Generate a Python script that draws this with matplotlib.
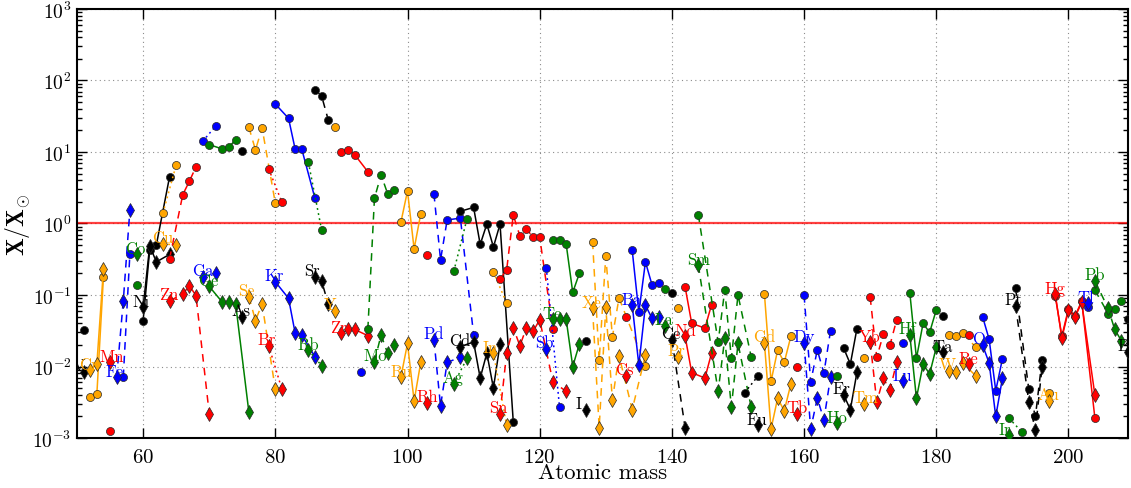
import math
import matplotlib
matplotlib.use("Agg")
import matplotlib.pyplot as plt
from matplotlib.ticker import FixedLocator, FuncFormatter, LogLocator, NullFormatter

plt.rcParams['font.family'] = 'serif'
plt.rcParams['font.serif'] = ['cmr10', 'DejaVu Serif']
plt.rcParams['mathtext.fontset'] = 'cm'
plt.rcParams['axes.formatter.use_mathtext'] = True

# ---------------- data ----------------
symbols = ['V', 'Cr', 'Mn', 'Fe', 'Co', 'Ni', 'Cu', 'Zn', 'Ga', 'Ge', 'As', 'Se', 'Br', 'Kr', 'Rb',
           'Sr', 'Y', 'Zr', 'Nb', 'Mo', 'Ru', 'Rh', 'Pd', 'Ag', 'Cd', 'In', 'Sn', 'Sb', 'Te', 'I',
           'Xe', 'Cs', 'Ba', 'La', 'Ce', 'Pr', 'Nd', 'Sm', 'Eu', 'Gd', 'Tb', 'Dy', 'Ho', 'Er', 'Tm',
           'Yb', 'Lu', 'Hf', 'Ta', 'W', 'Re', 'Os', 'Ir', 'Pt', 'Au', 'Hg', 'Tl', 'Pb', 'Bi']
Zs = [23, 24, 25, 26, 27, 28, 29, 30, 31, 32, 33, 34, 35, 36, 37,
      38, 39, 40, 41, 42, 44, 45, 46, 47, 48, 49, 50, 51, 52, 53,
      54, 55, 56, 57, 58, 59, 60, 62, 63, 64, 65, 66, 67, 68, 69,
      70, 71, 72, 73, 74, 75, 76, 77, 78, 79, 80, 81, 82, 83]

masses = [
    [51], [52, 53, 54], [55], [56, 57, 58], [59], [60, 61, 62, 64], [63, 65],
    [64, 66, 67, 68, 70], [69, 71], [70, 72, 73, 74, 76], [75], [76, 77, 78, 80],
    [79, 81], [80, 82, 83, 84, 86], [85, 87], [86, 87, 88], [89], [90, 91, 92, 94],
    [93], [94, 95, 96, 97, 98], [99, 100, 101, 102], [103], [104, 105, 106, 108, 110],
    [107, 109], [108, 110, 111, 112, 113, 114, 116], [113, 115],
    [114, 115, 116, 117, 118, 119, 120, 122, 124], [121, 123], [122, 123, 124, 125, 126],
    [127], [128, 129, 130, 131, 132, 134, 136], [133], [134, 135, 136, 137, 138], [139],
    [140, 142], [141], [142, 143, 145, 146], [144, 147, 148, 149, 150, 152], [151, 153],
    [154, 155, 156, 157, 158], [159], [160, 161, 162, 163, 164], [165], [166, 167, 168],
    [169], [170, 171, 172, 173, 174], [175], [176, 177, 178, 179, 180], [181],
    [182, 183, 184, 186], [185], [187, 188, 189, 190], [191, 193], [192, 194, 195, 196],
    [197], [198, 199, 200, 201, 202, 204], [203], [204, 206, 207, 208], [209]]

# circles (upper model) ; None = not shown
circle_vals = [
    [0.032], [0.0037, 0.0041, 0.18], [0.00127], [None, 0.0071, 0.38], [0.14],
    [0.044, 0.43, 0.50, 4.5], [1.39, 6.6], [0.32, 2.53, 3.9, 6.2, None], [14.1, 23.1],
    [12.7, 11.0, 11.9, 14.7, None], [10.4], [22.1, 10.7, 21.7, 1.92], [5.8, 1.98],
    [46.9, 29.6, 11.0, 11.0, 2.25], [7.2, 0.82], [74.0, 61.0, 28.3], [22.1],
    [10.1, 10.8, 9.2, 5.3], [0.0085], [0.033, 2.25, 4.8, 2.6, 2.97], [1.04, 2.85, 0.44, 1.36],
    [0.36], [2.6, 0.31, 1.12, 1.19, 0.028], [0.214, 1.16],
    [1.48, 1.68, 0.51, 0.98, 0.47, 0.98, 0.0017], [0.21, 0.077],
    [0.167, 0.224, 1.31, 0.675, 0.84, 0.64, 0.64, 0.0335, None], [0.24, 0.0027],
    [0.59, 0.59, 0.52, 0.109, 0.20], [0.0225], [0.56, 0.0123, 0.35, 0.026, 0.091, None, 0.0103],
    [0.049], [0.42, 0.057, 0.29, 0.138, 0.146], [0.121], [0.107, None], [0.065],
    [0.13, 0.040, 0.0345, 0.073], [1.33, 0.022, 0.117, 0.013, 0.100, 0.0137], [0.0043, 0.0073],
    [0.104, 0.0062, 0.017, 0.0114, 0.0264], [0.0100], [0.100, 0.0061, 0.017, 0.0081, 0.0316],
    [0.0073], [0.018, 0.0108, 0.034], [0.013], [0.093, 0.0134, 0.0285, 0.020, 0.0447],
    [0.0213], [0.107, 0.013, 0.040, 0.030, 0.062], [0.051], [0.0276, 0.027, 0.0294, 0.0185],
    [0.028], [0.050, 0.024, 0.0046, 0.0127], [0.0019, 0.0012], [0.124, 0.0048, 0.0020, 0.0123],
    [0.0042], [0.097, 0.0266, 0.064, 0.051, 0.082, 0.0019], [0.068], [0.117, 0.055, 0.064, 0.083],
    [0.046]]

# diamonds (lower model) ; None = not shown
diamond_vals = [
    [0.0085], [0.0089, 0.0108, 0.23], [0.0114], [0.0071, 0.083, 1.55], [0.37],
    [0.067, 0.49, 0.29, 0.37], [0.52, 0.50], [0.083, 0.103, 0.135, 0.098, 0.0022], [0.18, 0.20],
    [0.132, 0.079, 0.079, 0.075, 0.0023], [0.050], [0.095, 0.044, 0.075, 0.0048], [0.0195, 0.0048],
    [0.153, 0.090, 0.0294, 0.0276, 0.0137], [0.017, 0.0103], [0.18, 0.158, 0.075], [0.060],
    [0.029, 0.033, 0.033, 0.027], [None], [None, 0.0117, 0.0276, 0.0153, 0.020],
    [0.0071, 0.021, 0.0033, 0.0114], [0.0031], [0.0237, 0.0028, 0.0114, 0.0135, None],
    [0.0057, 0.013], [0.019, 0.022, 0.0069, 0.0154, 0.0050, 0.0206, None], [0.0154, 0.0015],
    [0.0022, 0.0154, 0.035, 0.0195, 0.035, 0.031, 0.045, 0.0061, 0.0045], [0.0176, None],
    [0.046, 0.046, 0.046, 0.0100, 0.0206], [0.0025],
    [0.065, 0.0014, 0.067, 0.0034, 0.0142, 0.0025, 0.0145], [0.0074],
    [0.072, 0.0105, 0.072, 0.047, 0.050], [0.037], [0.0237, 0.0014], [0.0137],
    [0.0265, 0.0082, 0.0069, 0.0154], [0.26, 0.0045, 0.0248, 0.0027, 0.021, 0.0027], [None, 0.0015],
    [0.0216, 0.00134, 0.0036, 0.0024, 0.0057], [0.0022], [0.0214, 0.00134, 0.0036, 0.0018, 0.0071],
    [0.0016], [0.0040, 0.0025, 0.0083], [0.0030], [0.022, 0.0032, 0.0068, 0.0047, 0.0114],
    [0.0062], [0.0276, 0.0036, 0.0107, 0.0079, 0.0185], [0.0158], [0.0087, 0.0085, 0.0111, 0.0074],
    [0.0108], [0.020, 0.0112, 0.0020, 0.0068], [0.0011, None], [0.071, 0.0032, 0.0013, 0.0097],
    [0.0033], [0.103, 0.025, 0.061, 0.049, 0.079, 0.0040], [0.077], [0.158, 0.065, 0.033, 0.023],
    [0.0160]]

x_ticks = [60, 80, 100, 120, 140, 160, 180, 200]

# ---------------- styles ----------------
palette = ['red', 'blue', 'green', 'black', 'orange']   # indexed by Z mod 5


def line_style(z):
    if z % 2 == 1:
        return (0, (1.2, 2.2))
    if z % 4 == 0:
        return '-'
    return (0, (5, 4))


fig = plt.figure(figsize=(11.31, 4.89), dpi=100)
ax = fig.add_axes([0.0681, 0.1022, 0.9292, 0.8774])
ax.set_yscale('log')

for sym, z, ms, cv, dv in zip(symbols, Zs, masses, circle_vals, diamond_vals):
    col = palette[z % 5]
    ls = line_style(z)
    cx = [m for m, v in zip(ms, cv) if v is not None]
    cy = [v for v in cv if v is not None]
    dx = [m for m, v in zip(ms, dv) if v is not None]
    dy = [v for v in dv if v is not None]
    if cx:
        ax.plot(cx, cy, color=col, linestyle=ls, linewidth=1.1, marker='o', markersize=5.8,
                markerfacecolor=col, markeredgecolor='0.15', markeredgewidth=0.5, zorder=3)
    if dx:
        ax.plot(dx, dy, color=col, linestyle=ls, linewidth=1.1, marker='d', markersize=7.5,
                markerfacecolor=col, markeredgecolor='0.15', markeredgewidth=0.5, zorder=3)
        ax.text(dx[0] - 1.65, dy[0] * 1.05, sym, color=col, fontsize=12, ha='left',
                va='baseline', clip_on=True, zorder=5)

ax.axhline(1.0, color='red', linewidth=1.6, alpha=0.75, zorder=2)

ax.set_xlim(50, 209)
ax.set_ylim(1e-3, 1e3)
ax.xaxis.set_major_locator(FixedLocator(x_ticks))
ax.yaxis.set_major_locator(LogLocator(base=10, numticks=10))
ax.yaxis.set_minor_locator(LogLocator(base=10, subs=range(2, 10), numticks=20))
ax.yaxis.set_minor_formatter(NullFormatter())
ax.yaxis.set_major_formatter(FuncFormatter(lambda v, p: r'$10^{%d}$' % round(math.log10(v))))

ax.grid(True, which='major', color='0.55', linestyle=(0, (1, 3)), linewidth=0.8, zorder=0)
ax.tick_params(which='both', direction='in', top=True, right=True, width=1.0)
ax.tick_params(which='major', length=7)
ax.tick_params(which='minor', length=3.5)
ax.tick_params(axis='x', labelsize=15, pad=7)
ax.tick_params(axis='y', labelsize=14, pad=4)
for s in ax.spines.values():
    s.set_linewidth(1.5)

ax.set_xlabel('Atomic mass', fontsize=16.5, labelpad=-2)
ax.set_ylabel(r'$\mathbf{X/X}_{\odot}$', fontsize=17, labelpad=0)

fig.savefig('out.png', dpi=100)
